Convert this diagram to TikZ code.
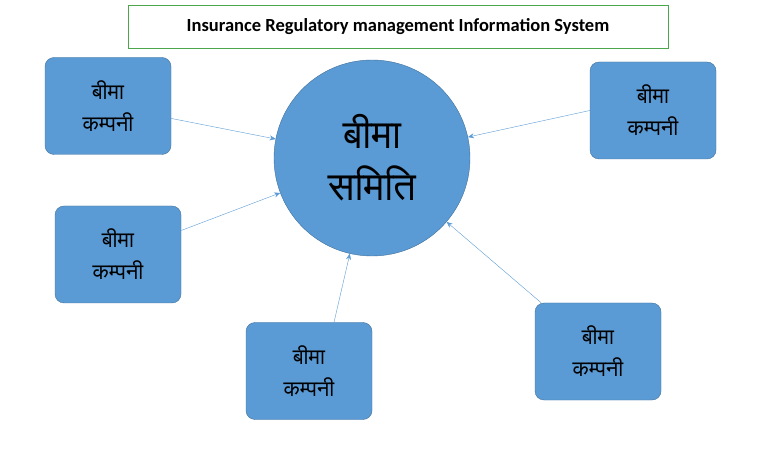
\documentclass[tikz,border=0pt]{standalone}
\usepackage{fontspec}
\setmainfont{Carlito}
\newfontfamily\dev[Script=Devanagari]{FreeSans}
\usetikzlibrary{arrows.meta}
\definecolor{boxblue}{HTML}{5B9BD5}
\definecolor{edgeblue}{HTML}{41719C}
\tikzset{
  company/.style={draw=edgeblue,fill=boxblue,rounded corners=9pt,minimum width=126pt,minimum height=97pt,align=center,font=\dev\fontsize{22}{32}\selectfont},
  link/.style={draw=boxblue,-{Stealth[length=6pt,width=5pt]},thin}
}
\begin{document}
\begin{tikzpicture}[x=1pt,y=-1pt]
        \useasboundingbox (0,0) rectangle (780,449);
        \node[draw=green!50!black!70,minimum width=540pt,minimum height=43pt,font=\bfseries\fontsize{18.5}{22}\selectfont] (title) at (398,26.5) {Insurance Regulatory management Information System};

        \node[circle,draw=edgeblue,fill=boxblue,minimum size=196pt,align=center,font=\dev\fontsize{40}{52}\selectfont] (samiti) at (372,158) {बीमा\\समिति};

        \node[company] (c1) at (108,106) {बीमा\\कम्पनी};
        \node[company] (c2) at (653,110.5) {बीमा\\कम्पनी};
        \node[company] (c3) at (118,254.5) {बीमा\\कम्पनी};
        \node[company] (c4) at (309,371) {बीमा\\कम्पनी};
        \node[company] (c5) at (598,351.5) {बीमा\\कम्पनी};

        \draw[link] (c1) -- (samiti);
        \draw[link] (c2.west) -- (samiti);
        \draw[link] (c3) -- (samiti);
        \draw[link] (c4.north) ++(25,0) -- (samiti);
        \draw[link] (c5) -- (samiti);
\end{tikzpicture}
\end{document}
